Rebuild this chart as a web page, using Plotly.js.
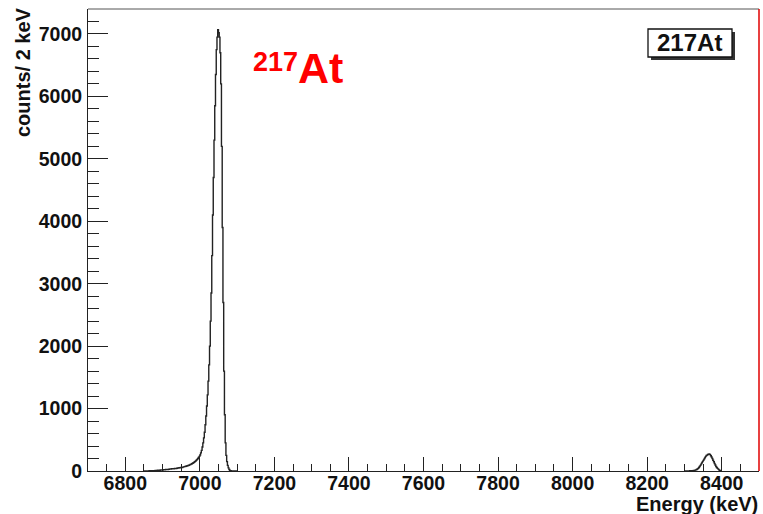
<!DOCTYPE html>
<html><head><meta charset="utf-8">
<script src="https://cdn.plot.ly/plotly-3.0.1.min.js"></script>
<style>html,body{margin:0;padding:0;background:#fff}#chart{width:763px;height:514px}</style>
</head><body><div id="chart"></div>
<script>
// ---- data ----
const binWidthKeV = 2;
const mainPeakFirstEdge = 6850;   // keV, lower edge of first listed bin
const mainPeakCounts = [
  0,0,1,0,2,1,0,3,1,2,4,2,5,3,6,
  8,10,9,12,11,14,13,16,15,18,17,20,22,19,24,23,26,25,28,30,
  32,30,35,34,38,36,40,42,41,45,48,46,52,50,55,58,56,62,66,70,
  72,76,80,84,88,92,98,104,110,116,124,132,140,150,160,172,186,200,216,234,
  256,290,330,385,450,530,620,740,880,1040,1220,1440,1700,2000,2400,2850,3450,4100,4700,5300,5850,6350,6750,6950,7070,
  7020,6950,6700,6200,5200,3900,2700,1600,900,450,250,150,90,50,25,10,4,1,0,0,0,0,0,0,0
];
const smallPeakFirstEdge = 8300;  // keV
const smallPeakCounts = [
  0,1,0,1,2,1,2,3,2,4,
  5,6,8,10,14,18,24,32,42,56,
  72,90,110,130,150,170,190,210,230,248,
  255,265,270,272,262,245,225,200,172,148,
  120,95,72,55,42,30,18,9,3,0
];
const xTickValues = [6800,7000,7200,7400,7600,7800,8000,8200,8400];
const yTickValues = [0,1000,2000,3000,4000,5000,6000,7000];
const xAxisTitle = 'Energy (keV)';
const yAxisTitle = 'counts/ 2 keV';
const legendLabel = '217At';
const isotopeMass = '217';
const isotopeSymbol = 'At';

// ---- build step histogram from bins ----
function stepPoints(firstEdge, counts) {
  const xs = [firstEdge], ys = [0];
  counts.forEach((c, i) => { xs.push(firstEdge + i * binWidthKeV); ys.push(c); });
  xs.push(firstEdge + counts.length * binWidthKeV); ys.push(0);
  return [xs, ys];
}
const [x1, y1] = stepPoints(mainPeakFirstEdge, mainPeakCounts);
const [x2, y2] = stepPoints(smallPeakFirstEdge, smallPeakCounts);

// ---- layout geometry (pixels) ----
const W = 763, H = 514, L = 88, R = 759, T = 9, B = 471;
const px = v => (v - L) / (R - L);
const py = v => (B - v) / (B - T);
const FONT = 'Liberation Sans, Arial, Helvetica, sans-serif';
const axisCol = '#222';

const traces = [
  {x: x1, y: y1, type: 'scatter', mode: 'lines', line: {shape: 'hv', color: '#222', width: 1.4}, hoverinfo: 'skip', showlegend: false},
  {x: x2, y: y2, type: 'scatter', mode: 'lines', line: {shape: 'hv', color: '#222', width: 1.4}, hoverinfo: 'skip', showlegend: false}
];

const layout = {
  width: W, height: H,
  margin: {l: L, r: W - R, t: T, b: H - B, pad: 0},
  paper_bgcolor: '#fff', plot_bgcolor: '#fff',
  showlegend: false,
  font: {family: FONT, color: '#111'},
  xaxis: {
    range: [6700, 8500], tickvals: xTickValues, ticktext: xTickValues.map(String),
    ticks: 'inside', ticklen: 14, tickwidth: 1, tickcolor: axisCol,
    showline: true, linecolor: axisCol, linewidth: 1, mirror: false,
    showgrid: false, zeroline: false, ticklabelstandoff: -5,
    tickfont: {family: FONT, size: 19.5, color: '#111', weight: 'bold'},
    minor: {dtick: 50, tick0: 6700, ticks: 'inside', ticklen: 7, tickwidth: 1, tickcolor: axisCol, showgrid: false}
  },
  yaxis: {
    range: [0, 7400], tickvals: yTickValues, ticktext: yTickValues.map(String),
    ticks: 'inside', ticklen: 20, tickwidth: 1, tickcolor: axisCol,
    showline: true, linecolor: axisCol, linewidth: 1, mirror: false,
    showgrid: false, zeroline: false, ticklabelstandoff: 1,
    tickfont: {family: FONT, size: 19.5, color: '#111', weight: 'bold'},
    minor: {dtick: 200, tick0: 0, ticks: 'inside', ticklen: 11, tickwidth: 1, tickcolor: axisCol, showgrid: false}
  },
  shapes: [
    {type: 'line', xref: 'paper', yref: 'paper', x0: 0, x1: 1, y0: 1, y1: 1, line: {color: '#555', width: 1}},
    {type: 'line', xref: 'paper', yref: 'paper', x0: 1, x1: 1, y0: 0, y1: 1, line: {color: '#e00000', width: 1.5}},
    {type: 'rect', xref: 'paper', yref: 'paper', x0: px(651), x1: px(735), y0: py(60), y1: py(32), line: {width: 0}, fillcolor: '#333'},
    {type: 'rect', xref: 'paper', yref: 'paper', x0: px(648), x1: px(732), y0: py(57), y1: py(29), line: {color: '#111', width: 1.3}, fillcolor: '#fff'}
  ],
  annotations: [
    {text: '<b>' + yAxisTitle + '</b>', xref: 'paper', yref: 'paper', x: px(23), y: py(72), xanchor: 'center', yanchor: 'middle', textangle: -90, showarrow: false, font: {family: FONT, size: 20, color: '#111'}},
    {text: '<b>' + xAxisTitle + '</b>', xref: 'paper', yref: 'paper', x: px(760), y: py(504), xanchor: 'right', yanchor: 'middle', showarrow: false, font: {family: FONT, size: 20, color: '#111'}},
    {text: '<b>' + legendLabel + '</b>', xref: 'paper', yref: 'paper', x: px(689), y: py(43), xanchor: 'center', yanchor: 'middle', showarrow: false, font: {family: FONT, size: 24, color: '#111'}},
    {text: '<b>' + isotopeMass + '</b>', xref: 'paper', yref: 'paper', x: px(275), y: py(62), xanchor: 'center', yanchor: 'middle', showarrow: false, font: {family: FONT, size: 27, color: '#ff0000'}},
    {text: '<b>' + isotopeSymbol + '</b>', xref: 'paper', yref: 'paper', x: px(320.5), y: py(67.5), xanchor: 'center', yanchor: 'middle', showarrow: false, font: {family: FONT, size: 43, color: '#ff0000'}}
  ]
};

Plotly.newPlot('chart', traces, layout, {staticPlot: true, displayModeBar: false});
</script></body></html>
